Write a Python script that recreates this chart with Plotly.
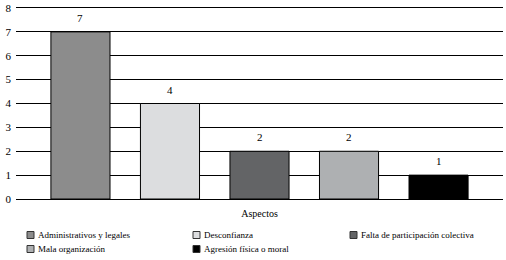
import plotly.graph_objects as go

categories = ["Administrativos y legales", "Desconfianza", "Falta de participación colectiva",
              "Mala organización", "Agresión física o moral"]
values = [7, 4, 2, 2, 1]
colors = ["#8c8c8c", "#dcdddf", "#636466", "#aeb0b2", "#000000"]
y_ticks = [0, 1, 2, 3, 4, 5, 6, 7, 8]

FONT = "Liberation Serif"
W, H = 506, 260
ML, MR, MT, MB = 16, 3, 8, 61
PW, PH = W - ML - MR, H - MT - MB


def px2x(px):
    return (px - ML) / PW


def py2y(py):
    return (H - MB - py) / PH


fig = go.Figure()
for i, (cat, val, col) in enumerate(zip(categories, values, colors)):
    fig.add_trace(go.Bar(
        x=[i], y=[val], name=cat,
        marker=dict(color=col, line=dict(color="black", width=1)),
        width=0.66, showlegend=False, hoverinfo="skip",
    ))

annotations = []
shapes = []
# value labels above bars (positioned through the data scales)
for i, val in enumerate(values):
    annotations.append(dict(
        x=i, y=val, xref="x", yref="y", text=str(val), showarrow=False,
        yanchor="bottom", yshift=6,
        font=dict(family=FONT, size=11, color="#000000"),
    ))

# legend (manual, to match the compact reference layout)
col_px = [27, 193, 350]
row_py = [235, 249]
for k, (cat, col) in enumerate(zip(categories, colors)):
    r, c = divmod(k, 3)
    sx, sy = col_px[c], row_py[r]
    shapes.append(dict(
        type="rect", xref="paper", yref="paper",
        x0=px2x(sx), x1=px2x(sx + 7), y0=py2y(sy + 3.5), y1=py2y(sy - 3.5),
        fillcolor=col, line=dict(color="#333333", width=1),
    ))
    annotations.append(dict(
        x=px2x(sx + 9), y=py2y(sy), xref="paper", yref="paper", text=cat,
        showarrow=False, xanchor="left", yanchor="middle",
        font=dict(family=FONT, size=9, color="black"),
    ))

fig.update_layout(
    width=W, height=H,
    margin=dict(l=ML, r=MR, t=MT, b=MB, autoexpand=False),
    paper_bgcolor="white", plot_bgcolor="white",
    font=dict(family=FONT, size=10, color="black"),
    showlegend=False,
    annotations=annotations,
    shapes=shapes,
    xaxis=dict(
        range=[-0.72, 4.72], showticklabels=False, ticks="", showgrid=False,
        zeroline=False, showline=True, mirror=True, linecolor="black", linewidth=1,
        title=dict(text="Aspectos", font=dict(family=FONT, size=10, color="black"), standoff=10),
    ),
    yaxis=dict(
        range=[0, 8], tickvals=y_ticks, showgrid=True, gridcolor="black", gridwidth=1,
        zeroline=True, zerolinecolor="black", zerolinewidth=1,
        showline=False, ticks="", ticklabelstandoff=4,
        tickfont=dict(family=FONT, size=11, color="black"),
    ),
)

fig.write_html(
    "out.html",
    config={"displayModeBar": False},
    post_script="document.body.style.margin='0';document.body.style.overflow='hidden';",
)
